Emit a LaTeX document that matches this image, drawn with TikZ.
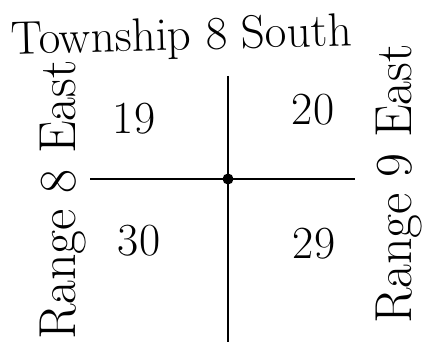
\documentclass[tikz,border=0pt]{standalone}
\begin{document}
\begin{tikzpicture}[x=1pt,y=-1pt,
  ink/.style={line width=2.2pt,black},
  lbl/.style={inner sep=0pt,font=\fontsize{52}{52}\selectfont},
  num/.style={inner sep=0pt,font=\fontsize{46}{46}\selectfont}]
\useasboundingbox[fill=white] (0,0) rectangle (437,350);
% title
\node[lbl,font=\fontsize{47}{47}\selectfont,anchor=base,rotate=1.5] (title) at (182,50) {Township 8 South};
% side labels
\node[lbl,anchor=base,rotate=90] (r8) at (75,200) {Range 8 East};
\node[lbl,anchor=base,rotate=90] (r9) at (411,184) {Range 9 East};
% section numbers
\node[num] (s19) at (134,119) {19};
\node[num] (s20) at (313,110) {20};
\node[num] (s30) at (139,241) {30};
\node[num] (s29) at (314,244) {29};
% cross lines
\coordinate (vtop) at (228,76);
\coordinate (vbot) at (228,342);
\coordinate (hleft) at (90,179);
\coordinate (hright) at (355,179);
\coordinate (corner) at (228,179);
\draw[ink] (vtop) -- (vbot);
\draw[ink] (hleft) -- (hright);
\fill (corner) circle (5.5);
\end{tikzpicture}
\end{document}
